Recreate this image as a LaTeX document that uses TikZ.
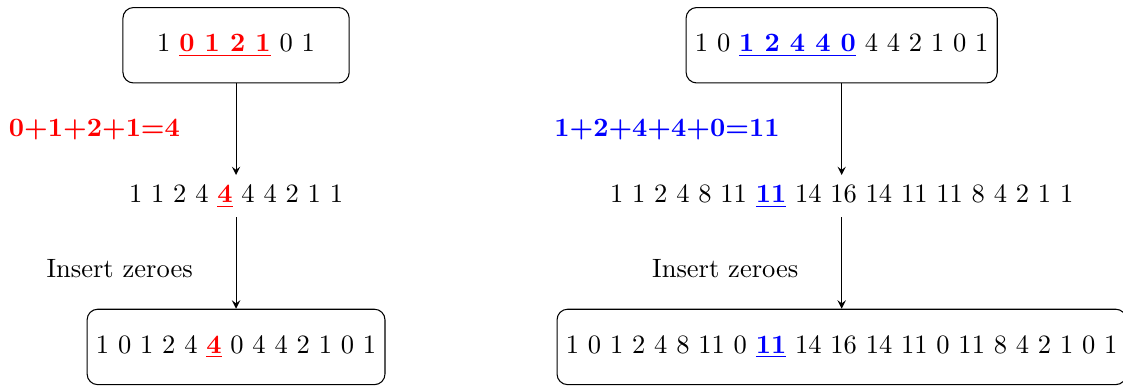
\documentclass[tikz,border=0pt]{standalone}
\usetikzlibrary{arrows}

\begin{document}
\begin{tikzpicture}[scale=1,
	seqbox/.style={draw, rounded corners, minimum width=3cm, minimum height=1cm},
	flow/.style={-stealth}]
	\useasboundingbox (-3.13,0.6) rectangle (11.76,-4.54);
	% left: odd length window
	\node [seqbox] (topL) at (0,0) {1 {\color{red}\underline{\textbf{0 1 2 1}}} 0 1};
	\node (midL) at (0,-2) {1 1 2 4 {\color{red}\underline{\textbf{4}}} 4 4 2 1 1};
	\node [seqbox] (botL) at (0,-4) {1 0 1 2 4 {\color{red}\underline{\textbf{4}}} 0 4 4 2 1 0 1};
	\draw [flow] (topL) -- node [midway, left=0.62cm, text=red] {\textbf{0+1+2+1=4}} (midL);
	\draw [flow] (midL) -- node [midway, left=0.45cm, yshift=-2pt] {Insert zeroes} (botL);

	% right: longer window
	\node [seqbox] (topR) at (8.03,0) {1 0 {\color{blue}\underline{\textbf{1 2 4 4 0}}} 4 4 2 1 0 1};
	\node (midR) at (8.03,-2) {1 1 2 4 8 11 {\color{blue}\underline{\textbf{11}}} 14 16 14 11 11 8 4 2 1 1};
	\node [seqbox] (botR) at (8.03,-4) {1 0 1 2 4 8 11 0 {\color{blue}\underline{\textbf{11}}} 14 16 14 11 0 11 8 4 2 1 0 1};
	\draw [flow] (topR) -- node [midway, left=0.7cm, text=blue] {\textbf{1+2+4+4+0=11}} (midR);
	\draw [flow] (midR) -- node [midway, left=0.45cm, yshift=-2pt] {Insert zeroes} (botR);
\end{tikzpicture}
\end{document}
